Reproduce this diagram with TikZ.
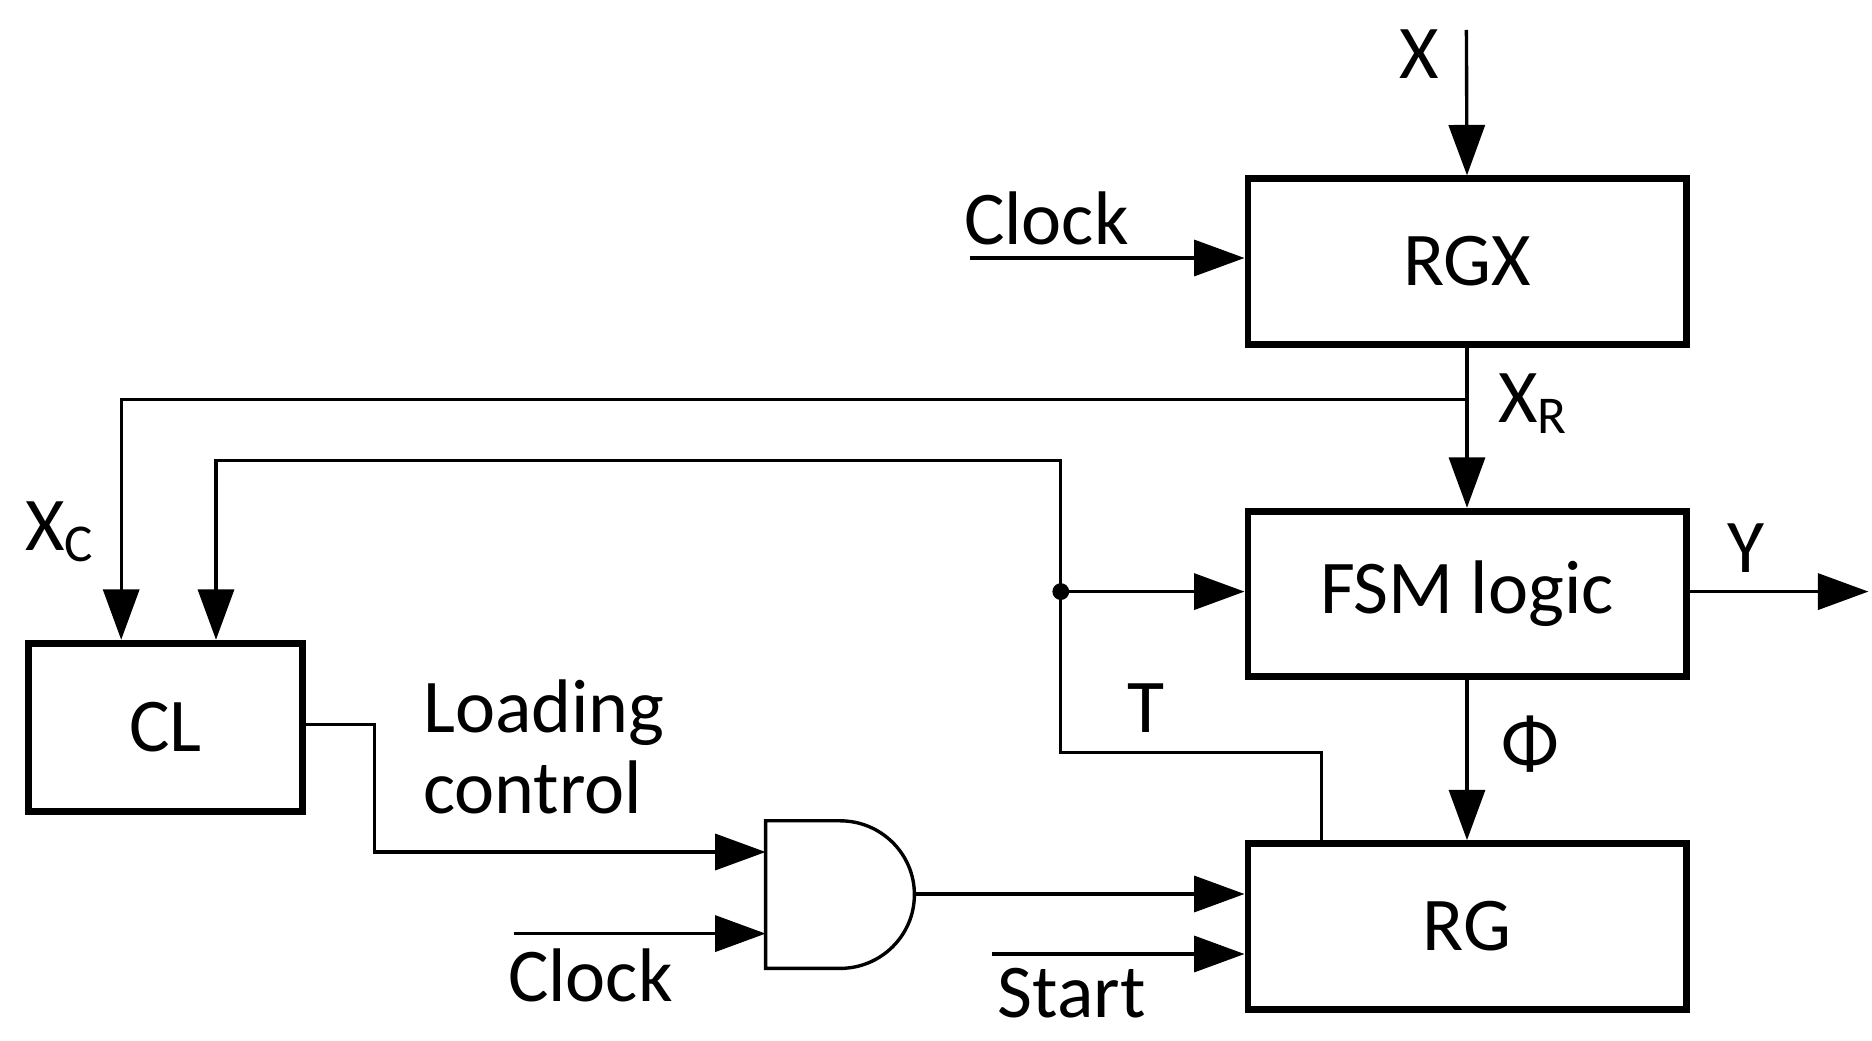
\documentclass[tikz,border=0pt]{standalone}
\usepackage{fontspec}
\setmainfont{Carlito}
\usetikzlibrary{arrows.meta}
\begin{document}
\begin{tikzpicture}[x=0.01cm,y=-0.01cm,
  box/.style={draw,line width=1.6pt,minimum width=3.65cm,minimum height=1.38cm,font=\fontsize{18}{20}\selectfont},
  w/.style={line width=0.8pt},
  a/.style={w,-{Triangle[length=0.42cm,width=0.3cm]}},
  lbl/.style={font=\fontsize{18}{20}\selectfont,inner sep=0pt}]
\useasboundingbox (0,0) rectangle (1560,867);
\node[box] (rgx) at (1222.5,218) {RGX};
\node[box] (fsm) at (1222.5,495) {FSM logic};
\node[box] (rg) at (1222.5,772) {RG};
\node[box,minimum width=2.28cm,minimum height=1.4cm] (cl) at (138,606) {CL};
% AND gate
\draw[w] (700,684) -- (638,684) -- (638,807) -- (700,807) arc[start angle=-90,end angle=90,x radius=62,y radius=-61.5];
\coordinate (andin1) at (638,710);
\coordinate (andin2) at (638,778);
\coordinate (andout) at (762,745);
% coordinates
\coordinate (xin) at (1222,25);
\coordinate (clk1) at (808,215);
\coordinate (br) at (1222,333);
\coordinate (xc1) at (101,333);
\coordinate (t1) at (1101,627);
\coordinate (t2) at (884,627);
\coordinate (dot) at (884,493);
\coordinate (t3) at (884,384);
\coordinate (t4) at (180,384);
\coordinate (yout) at (1557,493);
\coordinate (cl1) at (312,604);
\coordinate (cl2) at (312,710);
\coordinate (clk2) at (428,778);
\coordinate (st) at (827,795);
% connectors
\draw[a] (xin) -- (rgx.north);
\draw[a] (clk1) -- (clk1 -| rgx.west);
\draw[a] (rgx.south) -- (fsm.north);
\draw[a] (br) -- (xc1) -- (xc1 |- cl.north);
\draw[a] (t1 |- rg.north) -- (t1) -- (t2) -- (t3) -- (t4) -- (t4 |- cl.north);
\fill (dot) circle (7);
\draw[a] (dot) -- (dot -| fsm.west);
\draw[a] (fsm.east |- yout) -- (yout);
\draw[a] (fsm.south) -- (rg.north);
\draw[a] (cl.east |- cl1) -- (cl1) -- (cl2) -- (andin1);
\draw[a] (clk2) -- (andin2);
\draw[a] (andout) -- (andout -| rg.west);
\draw[a] (st) -- (st -| rg.west);
% labels
\node[lbl] (lx) at (1183,45) {X};
\node[lbl] (lclk1) at (872,182) {Clock};
\node[lbl] (lxr) at (1278,336) {X\textsubscript{R}};
\node[lbl] (lxc) at (50,443) {X\textsubscript{C}};
\node[lbl] (lt) at (955,590) {T};
\node[lbl] (ly) at (1455,457) {Y};
\node[lbl] (lphi) at (1275,620) {Φ};
\node[lbl,anchor=base west] (lload1) at (352,610) {Loading};
\node[lbl,anchor=base west] (lload2) at (352,678) {control};
\node[lbl] (lclk2) at (492,813) {Clock};
\node[lbl] (lst) at (893,828) {Start};
\end{tikzpicture}
\end{document}
